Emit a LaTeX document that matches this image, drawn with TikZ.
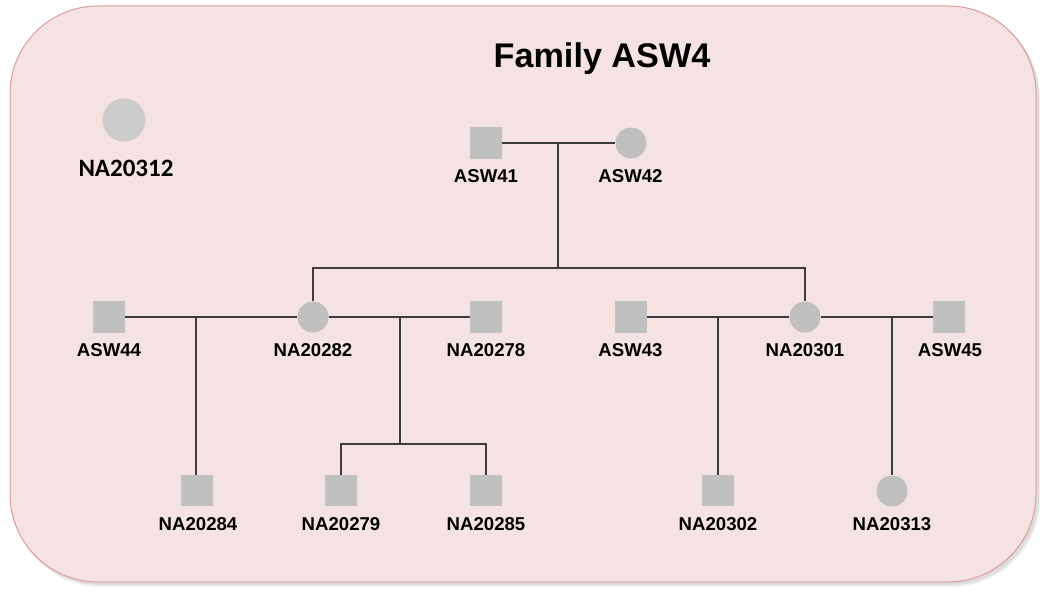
\documentclass[tikz,border=0pt]{standalone}
\usepackage{fontspec}
\setmainfont{Liberation Sans}
\newfontfamily\carlito{Carlito}
\definecolor{boxfill}{HTML}{F5E2E2}
\definecolor{boxline}{HTML}{DC9C9B}
\definecolor{indiv}{HTML}{C0C0C0}
\definecolor{lonecirc}{HTML}{CBCBCB}
\definecolor{linecol}{HTML}{3C3C3C}
\tikzset{
  male/.style={rectangle, fill=indiv, minimum width=31.5pt, minimum height=31.5pt, inner sep=0pt},
  female/.style={circle, fill=indiv, minimum size=31pt, inner sep=0pt},
  lbl/.style={anchor=base, font=\bfseries\fontsize{18.6}{20}\selectfont, inner sep=0pt},
  rel/.style={draw=linecol, line width=1.2pt},
}
\begin{document}
\begin{tikzpicture}[x=1pt,y=-1pt]
\useasboundingbox (0,0) rectangle (1040,591);
% shadow
\fill[black, opacity=0.06, rounded corners=88pt] (13,10) rectangle (1040,587);
\fill[black, opacity=0.08, rounded corners=88pt] (12,9) rectangle (1039,585);
% background box
\draw[fill=boxfill, draw=boxline, line width=1pt, rounded corners=88pt] (10,6) rectangle (1036,582);

% title
\node[anchor=base, font=\bfseries\fontsize{34.2}{36}\selectfont, inner sep=0pt] (title) at (602,67.5) {Family ASW4};

% lone individual
\node[circle, fill=lonecirc, minimum size=43pt, inner sep=0pt] (na20312) at (124,120) {};
\node[anchor=base, font=\carlito\bfseries\fontsize{25}{27}\selectfont, inner sep=0pt] (l20312) at (126,176.5) {NA20312};

% generation I
\node[male] (asw41) at (486,143) {};
\node[female] (asw42) at (631,143) {};
\node[lbl] (lasw41) at (486,182.7) {ASW41};
\node[lbl] (lasw42) at (630.5,182.7) {ASW42};

% generation II
\node[male] (asw44) at (109,317) {};
\node[female] (na20282) at (313,317) {};
\node[male] (na20278) at (486,317) {};
\node[male] (asw43) at (631,317) {};
\node[female] (na20301) at (805,317) {};
\node[male] (asw45) at (949,317) {};
\node[lbl] (lasw44) at (109,356) {ASW44};
\node[lbl] (l20282) at (313,356) {NA20282};
\node[lbl] (l20278) at (486,356) {NA20278};
\node[lbl] (lasw43) at (630.5,356) {ASW43};
\node[lbl] (l20301) at (805,356) {NA20301};
\node[lbl] (lasw45) at (950,356) {ASW45};

% generation III
\node[male] (na20284) at (197,490.5) {};
\node[male] (na20279) at (341,490.5) {};
\node[male] (na20285) at (486,490.5) {};
\node[male] (na20302) at (718,490.5) {};
\node[female] (na20313) at (892,491) {};
\node[lbl] (l20284) at (198,530) {NA20284};
\node[lbl] (l20279) at (341,530) {NA20279};
\node[lbl] (l20285) at (486,530) {NA20285};
\node[lbl] (l20302) at (718,530) {NA20302};
\node[lbl] (l20313) at (892,530) {NA20313};

% junction coordinates
\coordinate (m1) at (558,143);
\coordinate (s1) at (558,268);
\coordinate (m2) at (196,317);
\coordinate (m3) at (400,317);
\coordinate (s3) at (400,444);
\coordinate (m4) at (718,317);
\coordinate (m5) at (892,317);

% generation I marriage and descent
\draw[rel] (asw41.east) -- (asw42.west);
\draw[rel] (m1) -- (s1);
\draw[rel] (na20282.north) |- (s1) -| (na20301.north);

% ASW44 x NA20282
\draw[rel] (asw44.east) -- (na20282.west);
\draw[rel] (m2) -- (m2 |- na20284.north);
% NA20282 x NA20278
\draw[rel] (na20282.east) -- (na20278.west);
\draw[rel] (m3) -- (s3);
\draw[rel] (na20279.north) |- (s3) -| (na20285.north);
% ASW43 x NA20301
\draw[rel] (asw43.east) -- (na20301.west);
\draw[rel] (m4) -- (na20302.north);
% NA20301 x ASW45
\draw[rel] (na20301.east) -- (asw45.west);
\draw[rel] (m5) -- (na20313.north);
\end{tikzpicture}
\end{document}
